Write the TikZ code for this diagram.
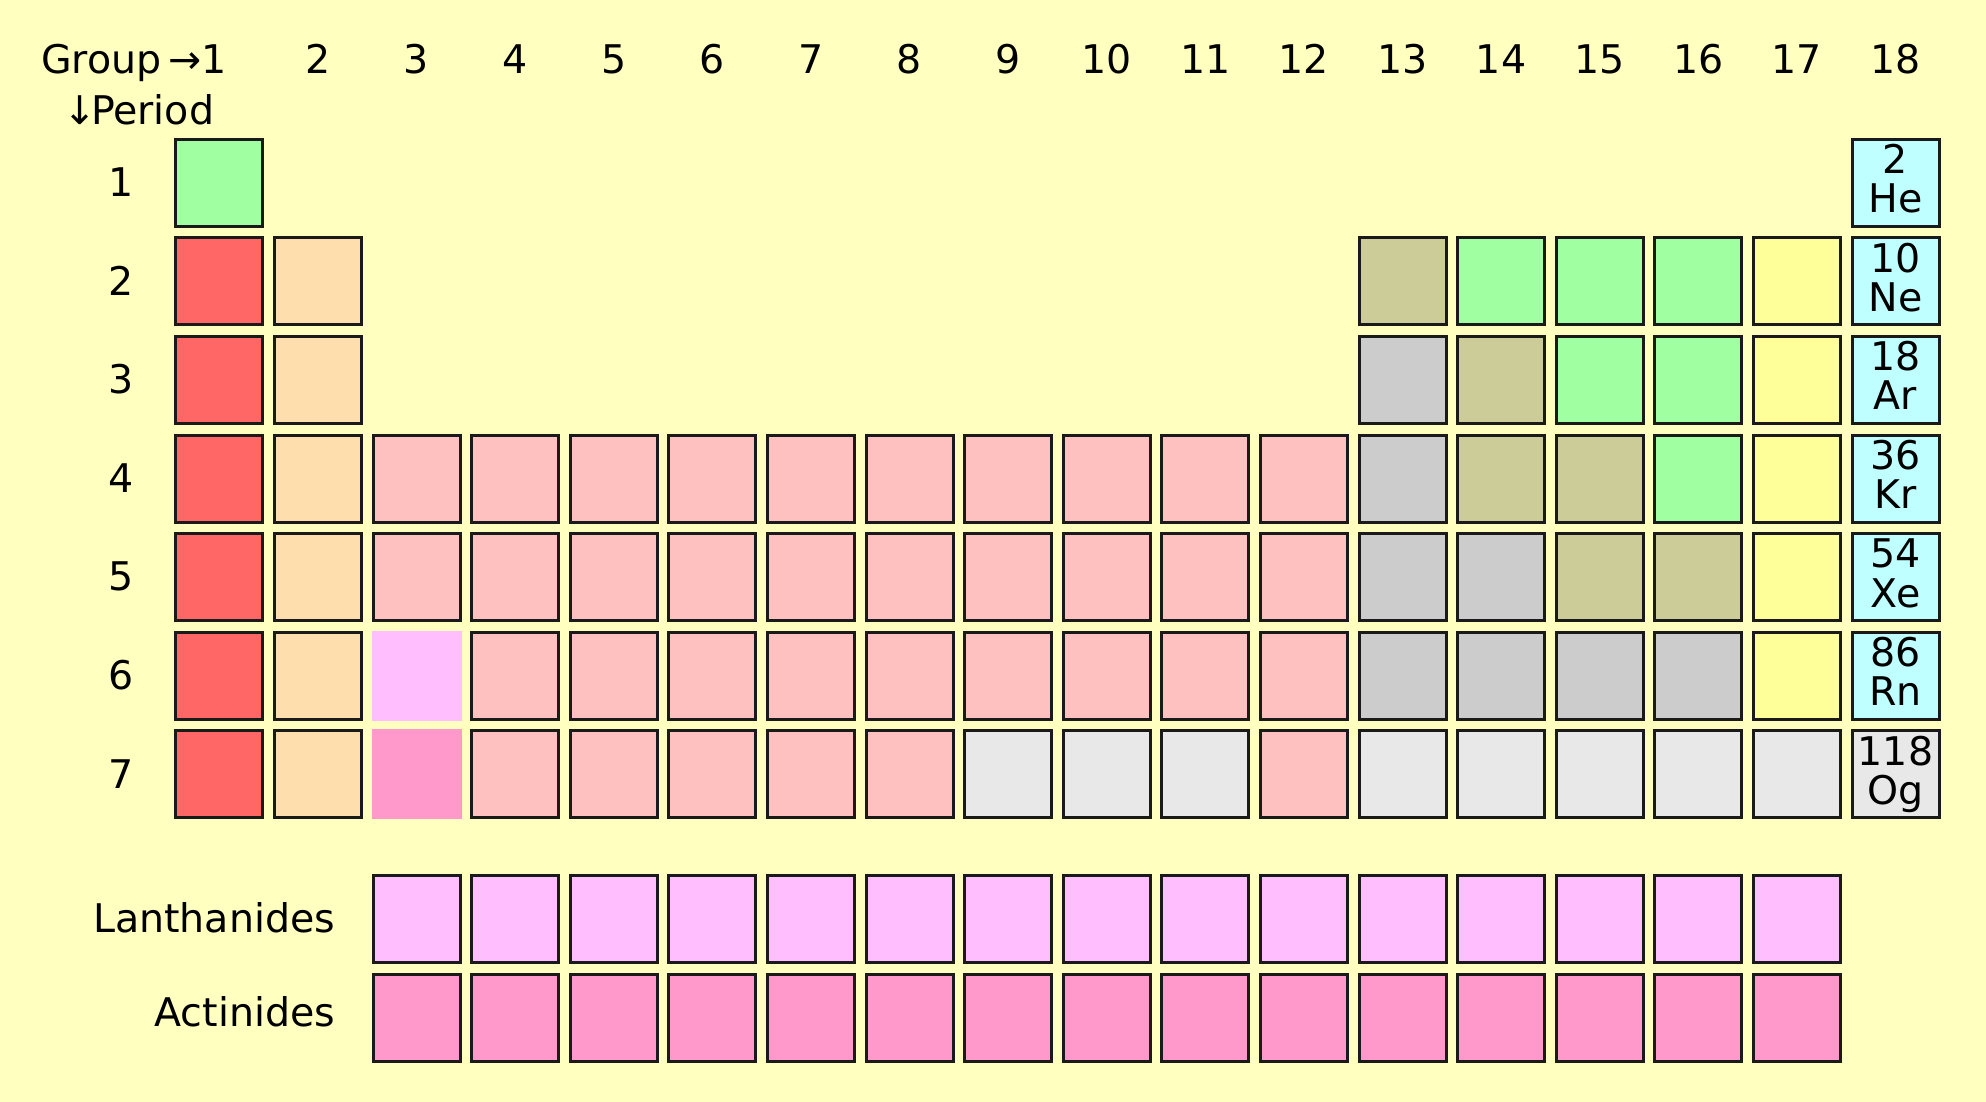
\documentclass[tikz,border=0pt]{standalone}
\usepackage{fontspec}
\setmainfont{DejaVu Sans}
\definecolor{bg}{HTML}{FFFFC0}
\definecolor{edge}{HTML}{1A1A1A}
\definecolor{cH}{HTML}{A0FFA0}
\definecolor{cAlk}{HTML}{FF6666}
\definecolor{cAlkE}{HTML}{FFDEAD}
\definecolor{cTr}{HTML}{FFC0C0}
\definecolor{cLa}{HTML}{FFBFFF}
\definecolor{cAc}{HTML}{FF99CC}
\definecolor{cPt}{HTML}{CCCCCC}
\definecolor{cMe}{HTML}{CCCC99}
\definecolor{cHal}{HTML}{FFFF99}
\definecolor{cNob}{HTML}{C0FFFF}
\definecolor{cUnk}{HTML}{E8E8E8}
\begin{document}
\begin{tikzpicture}[x=1pt,y=-1pt,
  cell/.style={draw=edge, line width=3pt, minimum size=87pt, inner sep=0pt, outer sep=0pt},
  bare/.style={minimum size=90pt, inner sep=0pt, outer sep=0pt},
  lab/.style={inner sep=0pt, outer sep=0pt, font=\fontsize{39.5}{46}\selectfont, text=black}]
\fill[bg] (0,0) rectangle (1986,1102);
\useasboundingbox (0,0) rectangle (1986,1102);
% main table cells
\foreach \c/\r/\col in {
  1/1/cH, 18/1/cNob,
  13/2/cMe, 14/2/cH, 15/2/cH, 16/2/cH, 17/2/cHal, 18/2/cNob,
  13/3/cPt, 14/3/cMe, 15/3/cH, 16/3/cH, 17/3/cHal, 18/3/cNob,
  13/4/cPt, 14/4/cMe, 15/4/cMe, 16/4/cH, 17/4/cHal, 18/4/cNob,
  13/5/cPt, 14/5/cPt, 15/5/cMe, 16/5/cMe, 17/5/cHal, 18/5/cNob,
  13/6/cPt, 14/6/cPt, 15/6/cPt, 16/6/cPt, 17/6/cHal, 18/6/cNob,
  9/7/cUnk, 10/7/cUnk, 11/7/cUnk, 12/7/cTr,
  13/7/cUnk, 14/7/cUnk, 15/7/cUnk, 16/7/cUnk, 17/7/cUnk, 18/7/cUnk}
  \node[cell, fill=\col] (e-\c-\r) at ({219.3+(\c-1)*98.6},{182.7+(\r-1)*98.6}) {};
\foreach \r in {2,...,7} {
  \node[cell, fill=cAlk] (e-1-\r) at (219.3,{182.7+(\r-1)*98.6}) {};
  \node[cell, fill=cAlkE] (e-2-\r) at (317.9,{182.7+(\r-1)*98.6}) {};
}
\foreach \r in {4,5} \foreach \c in {3,...,12}
  \node[cell, fill=cTr] (e-\c-\r) at ({219.3+(\c-1)*98.6},{182.7+(\r-1)*98.6}) {};
\foreach \c in {4,...,12}
  \node[cell, fill=cTr] (e-\c-6) at ({219.3+(\c-1)*98.6},{182.7+5*98.6}) {};
\foreach \c in {4,...,8}
  \node[cell, fill=cTr] (e-\c-7) at ({219.3+(\c-1)*98.6},{182.7+6*98.6}) {};
\node[bare, fill=cLa] (e-3-6) at (416.5,{182.7+5*98.6}) {};
\node[bare, fill=cAc] (e-3-7) at (416.5,{182.7+6*98.6}) {};
% lanthanides and actinides
\foreach \c in {3,...,17} {
  \node[cell, fill=cLa] (la-\c) at ({219.3+(\c-1)*98.6},919.3) {};
  \node[cell, fill=cAc] (ac-\c) at ({219.3+(\c-1)*98.6},1018.3) {};
}
% noble gas labels
\foreach \r/\n/\s in {1/2/He,2/10/Ne,3/18/Ar,4/36/Kr,5/54/Xe,6/86/Rn,7/118/Og} {
  \node[lab, anchor=base] (n-\r) at (1895.5,{137.7+(\r-1)*98.6+35.7}) {\n};
  \node[lab, anchor=base] (s-\r) at (1895.5,{137.7+(\r-1)*98.6+75}) {\s};
}
% headers
\node[lab, anchor=base west] (grp) at (41,74) {Group\hspace{7pt}→1};
\foreach \c in {2,...,18}
  \node[lab, anchor=base] (g-\c) at ({219.3+(\c-1)*98.6},73.5) {\c};
\node[lab, anchor=base] (arr) at (80,125) {↓};
\node[lab, anchor=base west] (per) at (91,125) {Period};
\foreach \r in {1,...,7}
  \node[lab, anchor=base] (p-\r) at (121,{137.7+(\r-1)*98.6+58.8}) {\r};
\node[lab, anchor=base east] (lan) at (335,932.7) {Lanthanides};
\node[lab, anchor=base east] (act) at (335,1026.7) {Actinides};
\end{tikzpicture}
\end{document}
